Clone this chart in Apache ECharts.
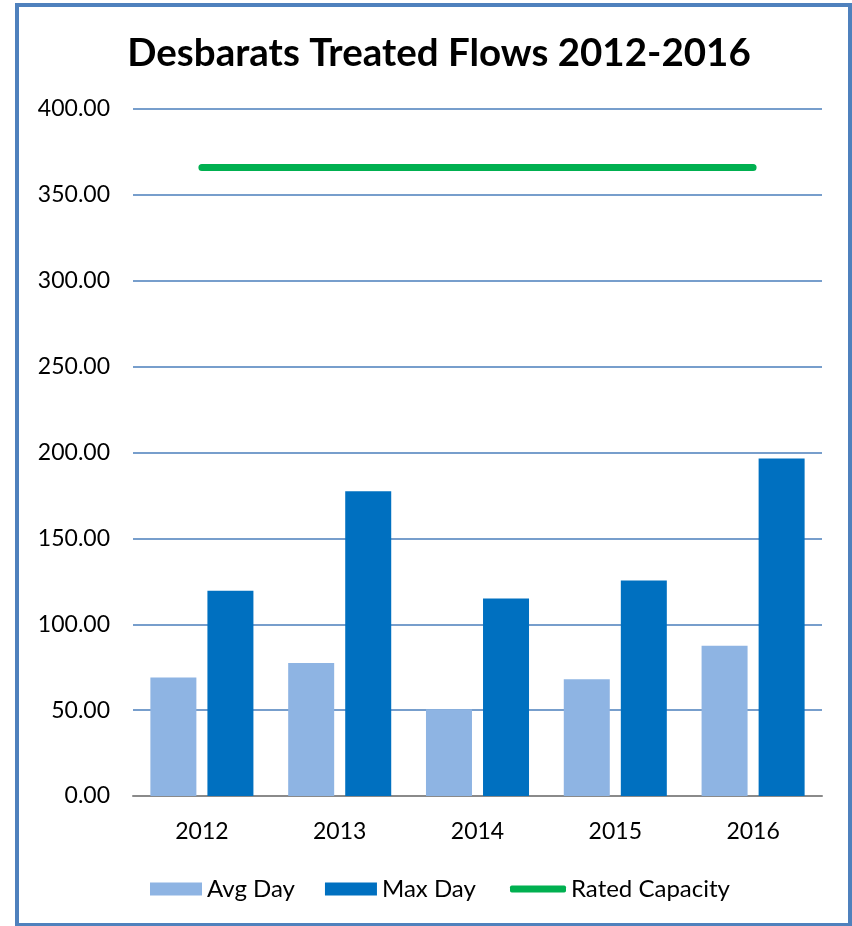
<!DOCTYPE html>
<html>
<head>
<meta charset="utf-8">
<style>
html,body{margin:0;padding:0;background:#fff;}
#chart{width:852px;height:926px;}
</style>
<script src="https://cdn.jsdelivr.net/npm/echarts@6/dist/echarts.min.js"></script>
</head>
<body>
<div id="chart"></div>
<script>
const titleText = 'Desbarats Treated Flows 2012-2016';
const categories = ['2012', '2013', '2014', '2015', '2016'];
const avgDay = [69, 77.5, 50.5, 68, 87.5];
const maxDay = [119.5, 177.5, 115, 125.5, 196.5];
const ratedCapacity = [366, 366, 366, 366, 366];
const yTicks = { min: 0, max: 400, interval: 50 };

const chart = echarts.init(document.getElementById('chart'));
const font = 'Lato, "Noto Sans", sans-serif';
const legendText = { fontFamily: font, fontSize: 24, color: '#000' };
chart.setOption({
  animation: false,
  backgroundColor: '#ffffff',
  title: {
    text: titleText,
    left: 434, textAlign: 'center', top: 29,
    textStyle: { fontFamily: font, fontWeight: 'bold', fontSize: 38.5, color: '#000' }
  },
  graphic: [{
    type: 'rect', z: 100,
    shape: { x: 17, y: 5, width: 833, height: 920 },
    style: { fill: 'none', stroke: '#4F81BD', lineWidth: 4 }
  }],
  legend: [{
    top: 872, left: 145,
    itemWidth: 52, itemHeight: 13, itemGap: 30,
    textStyle: legendText,
    data: [
      { name: 'Avg Day', icon: 'rect' },
      { name: 'Max Day', icon: 'rect' }
    ]
  }, {
    top: 872, left: 505,
    itemWidth: 56, itemHeight: 7,
    textStyle: legendText,
    data: [{ name: 'Rated Capacity', icon: 'roundRect', itemStyle: { color: '#00B050' } }]
  }],
  grid: { left: 133, right: 30, top: 109, bottom: 130, containLabel: false },
  xAxis: {
    type: 'category', data: categories,
    axisLine: { lineStyle: { color: '#8a8a8a', width: 2 } },
    axisTick: { show: false },
    axisLabel: { fontFamily: font, fontSize: 23, color: '#000', margin: 24 }
  },
  yAxis: {
    type: 'value', min: yTicks.min, max: yTicks.max, interval: yTicks.interval,
    axisLine: { show: false }, axisTick: { show: false },
    axisLabel: { fontFamily: font, fontSize: 23, color: '#000', margin: 23,
      formatter: v => v.toFixed(2) },
    splitLine: { lineStyle: { color: '#4A7EBB', width: 1.5 } }
  },
  series: [
    { name: 'Avg Day', type: 'bar', data: avgDay, barWidth: 46, barGap: '24%',
      itemStyle: { color: '#8EB4E3' } },
    { name: 'Max Day', type: 'bar', data: maxDay, barWidth: 46, barGap: '24%',
      itemStyle: { color: '#0070C0' } },
    { name: 'Rated Capacity', type: 'line', data: ratedCapacity, symbol: 'none',
      lineStyle: { color: '#00B050', width: 7, cap: 'round' },
      itemStyle: { color: '#00B050' } }
  ]
});
</script>
</body>
</html>
